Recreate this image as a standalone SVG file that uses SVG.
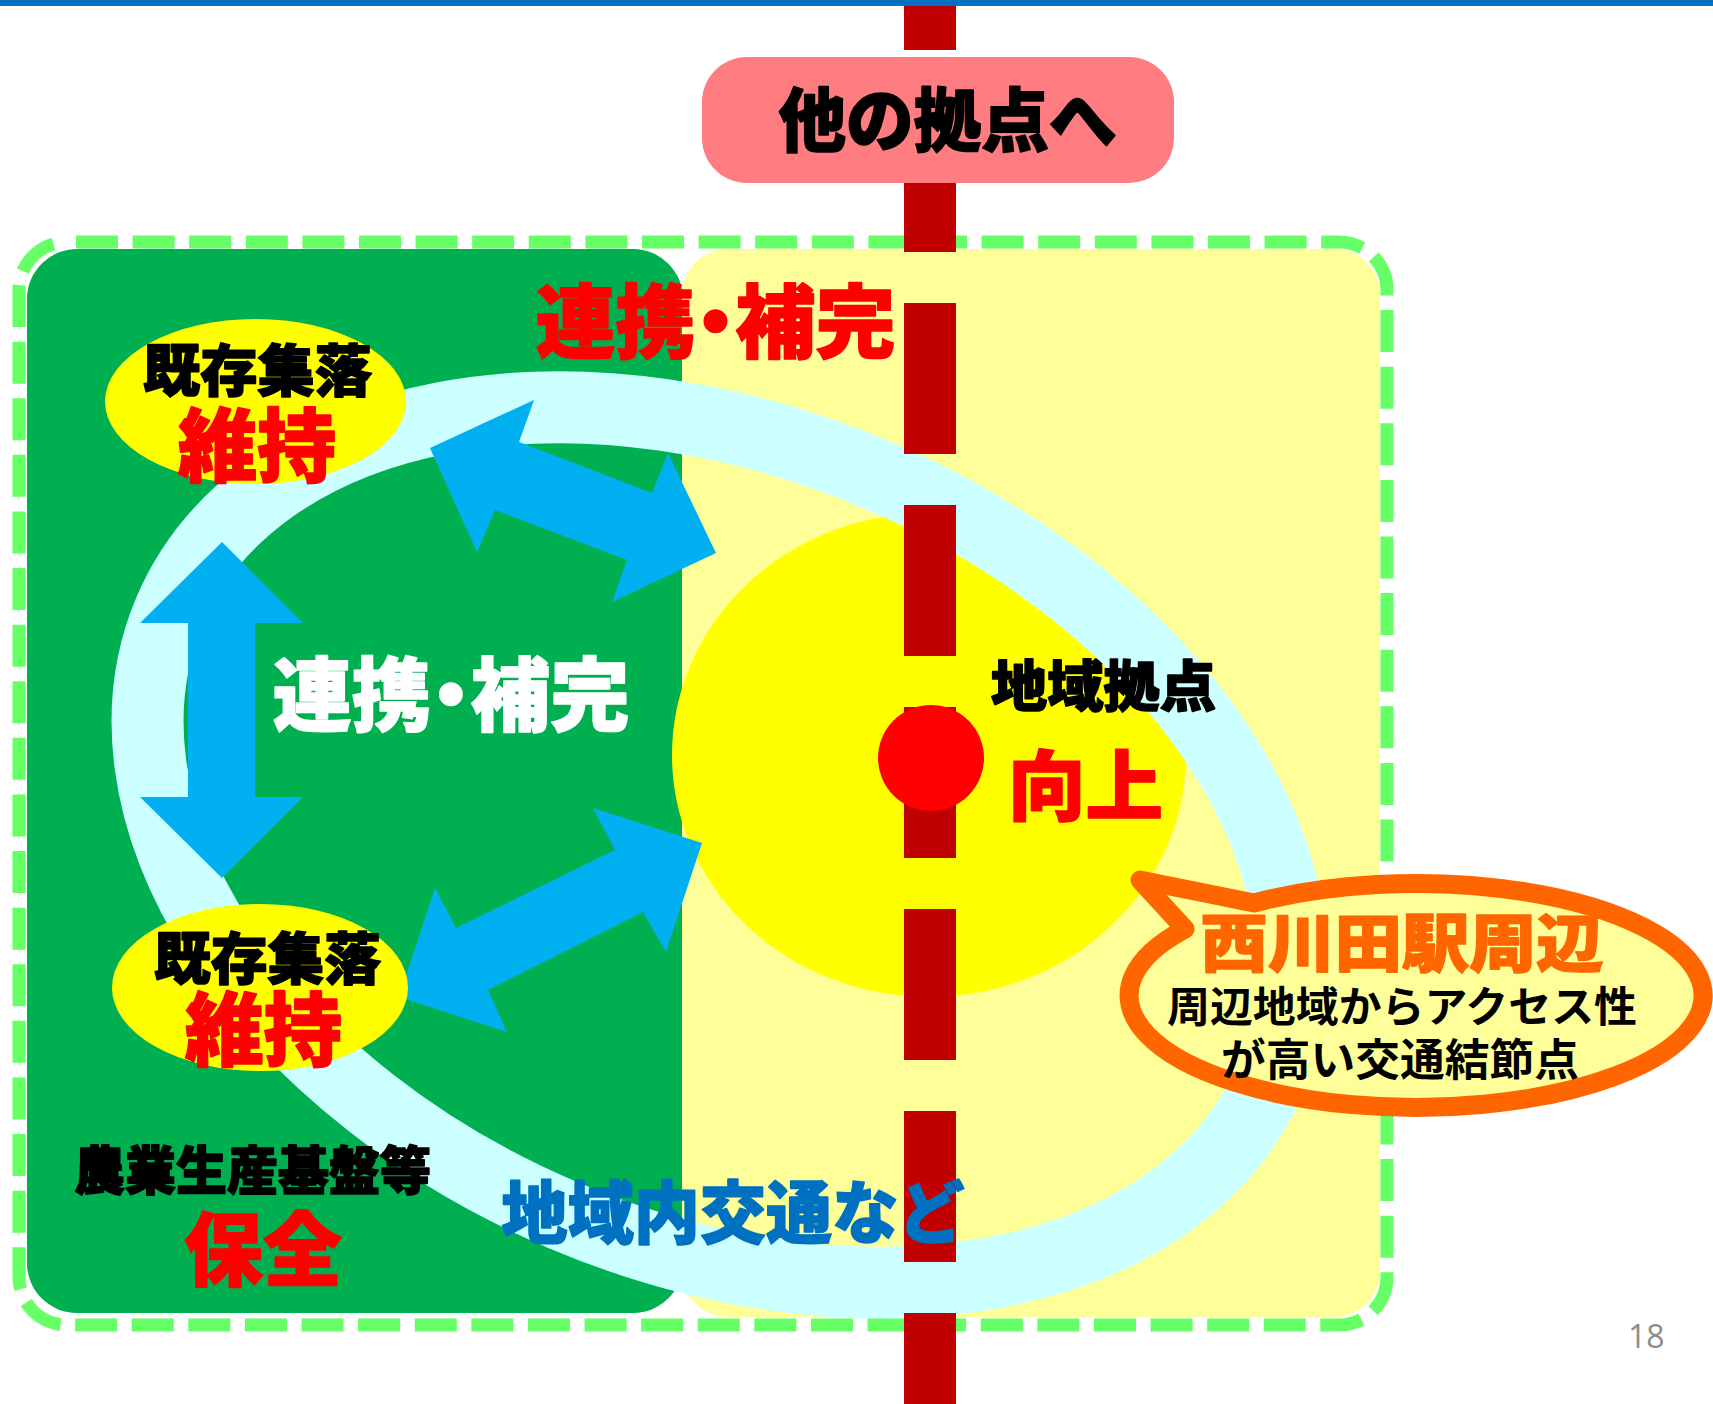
<svg xmlns="http://www.w3.org/2000/svg" width="1713" height="1404" viewBox="0 0 1713 1404">
<defs>
<style>
.t{font-family:"Noto Sans CJK JP","Noto Sans CJK SC",sans-serif;font-weight:900;text-anchor:middle;stroke-width:1.6;stroke-linejoin:round}
.tb{font-family:"Noto Sans CJK JP","Noto Sans CJK SC",sans-serif;font-weight:700;text-anchor:middle}
.palt{font-feature-settings:"palt"}
.arrow{fill:#00B0F0}
.k{fill:#000000;stroke:#000000}
.r{fill:#FF0000;stroke:#FF0000}
</style>
</defs>
<rect width="1713" height="1404" fill="#FFFFFF"/>
<g id="areas">
<rect id="area-agri" x="27" y="249" width="656" height="1064" rx="50" fill="#00B050"/>
<rect id="area-hub" x="682" y="249" width="698" height="1068" rx="46" fill="#FFFF99"/>
</g>
<g id="hub-circle">
<ellipse cx="929" cy="755" rx="257" ry="242" fill="#FFFF00"/>
</g>
<g id="ring">
<ellipse cx="720" cy="845" rx="598" ry="402" transform="rotate(23 720 845)" fill="none" stroke="#CCFFFF" stroke-width="72"/>
</g>
<g id="border">
<rect x="19" y="242" width="1368" height="1083" rx="48" fill="none" stroke="#66FF66" stroke-width="13" stroke-dasharray="42 14.6" stroke-dashoffset="-9"/>
</g>
<g id="connectors">
<line id="rail" x1="930" y1="-101" x2="930" y2="1404" stroke="#C00000" stroke-width="52" stroke-dasharray="151 51"/>
<polygon class="arrow" points="430,448 534,400 519,442 652,493 668,453 716,553 612,602 627,560 495,510 477,552"/>
<polygon class="arrow" points="399,997 435,888 456,928 615,850 593,808 702,843 666,952 643,912 488,990 507,1032"/>
<polygon class="arrow" points="222,542 303,623 255,623 255,797 303,797 222,878 140,797 188,797 188,623 140,623"/>
</g>
<g id="node-other">
<rect x="702" y="57" width="472" height="126" rx="45" fill="#FF7C80"/>
<text class="t k" x="947.5" y="146" font-size="69" textLength="338" lengthAdjust="spacingAndGlyphs">他の拠点へ</text>
</g>
<g id="node-village-top">
<ellipse cx="255.5" cy="401.5" rx="150.5" ry="82.5" fill="#FFFF00"/>
<text class="t k" x="257.5" y="391" font-size="56" textLength="229" lengthAdjust="spacingAndGlyphs">既存集落</text>
<text class="t r" x="257" y="475" font-size="80" textLength="158" lengthAdjust="spacingAndGlyphs">維持</text>
</g>
<g id="node-village-bottom">
<ellipse cx="260" cy="987.5" rx="148" ry="83.5" fill="#FFFF00"/>
<text class="t k" x="267.5" y="979" font-size="56" textLength="227" lengthAdjust="spacingAndGlyphs">既存集落</text>
<text class="t r" x="263.5" y="1059" font-size="80" textLength="157" lengthAdjust="spacingAndGlyphs">維持</text>
</g>
<g id="node-hub">
<circle cx="931" cy="758" r="53" fill="#FF0000"/>
<text class="t k" x="1103.5" y="706" font-size="55" textLength="225" lengthAdjust="spacingAndGlyphs">地域拠点</text>
<text class="t r" x="1085.5" y="814" font-size="76" textLength="155" lengthAdjust="spacingAndGlyphs">向上</text>
</g>
<g id="labels">
<text class="t palt r" x="715.5" y="351" font-size="80" textLength="360" lengthAdjust="spacingAndGlyphs">連携・補完</text>
<text class="t palt" x="451" y="724" font-size="80" textLength="357" lengthAdjust="spacingAndGlyphs" fill="#FFFFFF" stroke="#FFFFFF">連携・補完</text>
<text class="t k" x="252.5" y="1190" font-size="52" textLength="357" lengthAdjust="spacingAndGlyphs">農業生産基盤等</text>
<text class="t r" x="263" y="1279" font-size="80" textLength="158" lengthAdjust="spacingAndGlyphs">保全</text>
<text class="t" x="733" y="1238" font-size="68" textLength="463" lengthAdjust="spacingAndGlyphs" fill="#0070C0" stroke="#0070C0">地域内交通など</text>
</g>
<g id="node-station">
<path d="M 1254 903 A 287 112 0 1 1 1185 929 L 1140 880 Z" fill="#FFFF99" stroke="#FF6600" stroke-width="19" stroke-linejoin="round"/>
<text class="t" x="1402" y="966" font-size="63" textLength="403" lengthAdjust="spacingAndGlyphs" fill="#FF6600" stroke="#FF6600" stroke-width="0.8">西川田駅周辺</text>
<text class="tb" x="1402" y="1022" font-size="42" textLength="470" lengthAdjust="spacingAndGlyphs" fill="#000000">周辺地域からアクセス性</text>
<text class="tb" x="1400" y="1076" font-size="44" textLength="358" lengthAdjust="spacingAndGlyphs" fill="#000000">が高い交通結節点</text>
</g>
<g id="page">
<rect x="0" y="0" width="1713" height="6" fill="#0070C0"/>
<text x="1628" y="1348" font-family="'Open Sans','Liberation Sans',sans-serif" font-size="32" fill="#8C8C8C">18</text>
</g>
</svg>
